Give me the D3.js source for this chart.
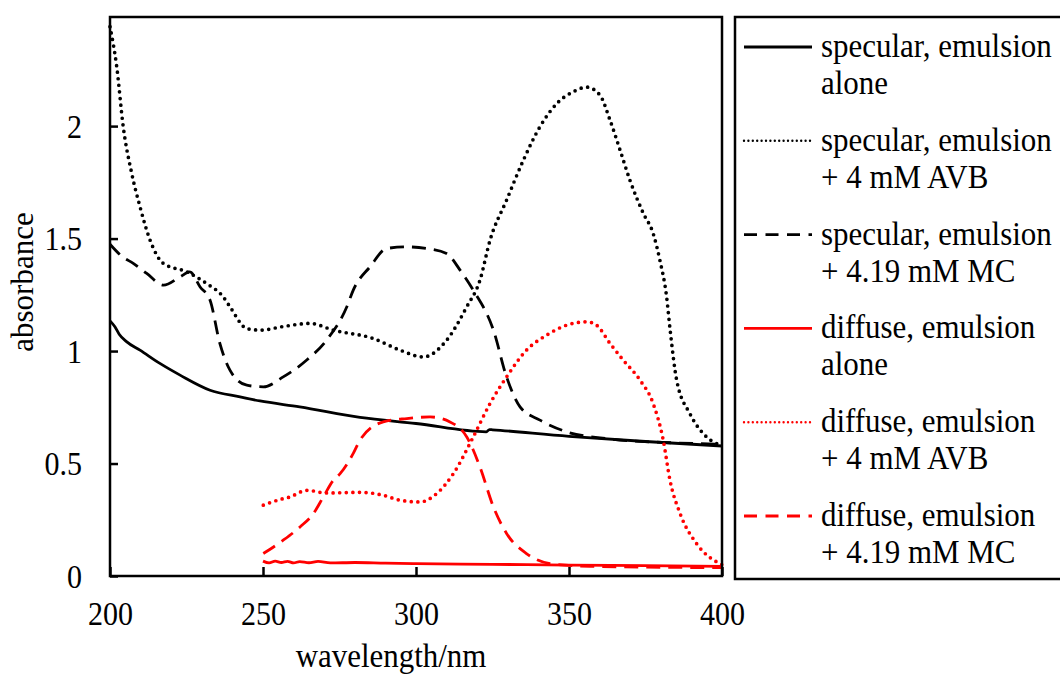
<!DOCTYPE html>
<html lang="en">
<head>
<meta charset="utf-8">
<title>absorbance spectra</title>
<script src="https://d3js.org/d3.v7.min.js"></script>
<style>
body { margin: 0; background: #fff; }
svg text { font-family: "Liberation Serif", "Times New Roman", serif; fill: #000; }
</style>
</head>
<body>
<div id="chart"></div>
<script>

// ---- data: [wavelength nm, absorbance] ----
var specAlone = [[200,1.134],[201.6,1.108],[203,1.075],[205.5,1.041],[209.8,1.004],[216.3,0.945],[222.9,0.893],
  [232.7,0.826],[242.5,0.796],[249,0.778],[262,0.752],[281.7,0.705],[300,0.678],[323,0.641],[324,0.651],
  [325,0.650],[350,0.621],[375,0.598],[400,0.578]];

var specAVB = [[200,2.442],[202.2,2.264],[204.3,2.0],[207.1,1.79],[209.8,1.642],[213.1,1.493],[217.4,1.39],
  [225.1,1.352],[231.6,1.30],[237,1.241],[239.2,1.197],[244.7,1.10],[249,1.093],[257,1.11],[265.4,1.123],
  [273,1.093],[286,1.056],[294.8,1.004],[302.4,0.974],[310,1.048],[316.6,1.197],[320.9,1.315],[324.2,1.493],
  [329.6,1.671],[335.1,1.849],[340.5,1.997],[346,2.10],[351.4,2.153],[355.8,2.173],[360.1,2.138],[363.4,2.027],
  [366.7,1.893],[369.9,1.76],[374.3,1.612],[377.5,1.523],[379.7,1.404],[381.9,1.241],[383,1.10],[385.2,0.87],
  [389.5,0.722],[395,0.618],[400,0.58]];

var specMC = [[200,1.475],[204,1.42],[207.6,1.39],[212,1.345],[217.5,1.293],[222.9,1.33],[226.1,1.352],
  [229.4,1.286],[232.7,1.226],[235.9,1.034],[239.2,0.915],[244.7,0.848],[250.1,0.841],[256.6,0.885],
  [264.3,0.96],[270.8,1.049],[277.4,1.197],[279.5,1.271],[285,1.375],[290.4,1.456],[297,1.463],[303.5,1.456],
  [310,1.434],[314.4,1.36],[318.7,1.271],[325.3,1.093],[329.6,0.885],[334,0.752],[340.5,0.693],[349.2,0.641],
  [362.3,0.611],[384.1,0.592],[400,0.586]];

var diffAlone = [[250,0.066],[252,0.058],[254,0.066],[256,0.06],[258,0.065],[260,0.058],[262,0.064],[265,0.059],
  [268,0.065],[272,0.058],[280,0.06],[290,0.057],[300,0.055],[325,0.052],[350,0.048],[375,0.046],[400,0.043]];

var diffAVB = [[250.1,0.315],[256.6,0.344],[258.5,0.35],[264.3,0.381],[270.8,0.369],[281.7,0.372],[289.3,0.359],
  [294.8,0.337],[301.3,0.329],[306.8,0.367],[312.2,0.455],[318.7,0.618],[324.2,0.767],[329.6,0.885],[336.1,1.004],
  [342.7,1.071],[349.2,1.115],[355.8,1.13],[359,1.115],[363.4,1.034],[367.7,0.96],[373.2,0.871],[377.5,0.767],
  [380.8,0.604],[383,0.426],[386.3,0.278],[391.7,0.144],[400,0.05]];

var diffMC = [[250.1,0.10],[256.6,0.159],[262.1,0.218],[266.5,0.278],[269.7,0.351],[273,0.426],[275.2,0.455],
  [279.5,0.545],[281.7,0.604],[289.3,0.685],[297,0.70],[304.6,0.707],[311.1,0.685],[316.6,0.618],[320.9,0.485],
  [325.3,0.307],[329.6,0.189],[336.1,0.10],[343.8,0.055],[356.9,0.043],[400,0.037]];

var seriesNames = ["specular, emulsion|alone", "specular, emulsion|+ 4 mM AVB", "specular, emulsion|+ 4.19 mM MC",
  "diffuse, emulsion|alone", "diffuse, emulsion|+ 4 mM AVB", "diffuse, emulsion|+ 4.19 mM MC"];
var seriesData = [specAlone, specAVB, specMC, diffAlone, diffAVB, diffMC];
var seriesColor = ["#000", "#000", "#000", "#ff0000", "#ff0000", "#ff0000"];
var seriesDash = ["none", "0,6.6", "14,8", "none", "0,6.6", "14,8"];

var xTicks = [200, 250, 300, 350, 400];
var yTicks = [0, 0.5, 1, 1.5, 2];

// ---- layout ----
var W = 1060, H = 674;
var plotL = 110, plotR = 722, plotT = 17, plotB = 576;
var sx = 0.91;   // the original glyphs are a bit taller than wide

var svg = d3.select("#chart").append("svg")
  .attr("width", W).attr("height", H);

var x = d3.scaleLinear().domain([200, 400]).range([plotL, plotR]);
var y = d3.scaleLinear().domain([0, 2.485]).range([plotB, plotT]);

function isDot(i) { return seriesDash[i] == "0,6.6"; }

// curves
var line = d3.line()
  .x(function(d) { return x(d[0]); })
  .y(function(d) { return y(d[1]); })
  .curve(d3.curveMonotoneX);

svg.append("g").selectAll("path")
  .data(seriesData)
  .enter().append("path")
    .attr("d", line)
    .attr("fill", "none")
    .attr("stroke", function(d, i) { return seriesColor[i]; })
    .attr("stroke-width", function(d, i) { return isDot(i) ? 3.7 : 2.8; })
    .attr("stroke-linecap", function(d, i) { return isDot(i) ? "round" : "butt"; })
    .attr("stroke-dasharray", function(d, i) { return seriesDash[i]; });

// axes (ticks pointing inwards)
var xAxis = svg.append("g")
  .attr("transform", "translate(0," + plotB + ")")
  .call(d3.axisBottom(x).tickValues(xTicks).tickSize(-9).tickSizeOuter(0));
var yAxis = svg.append("g")
  .attr("transform", "translate(" + plotL + ",0)")
  .call(d3.axisLeft(y).tickValues(yTicks).tickSize(-8).tickSizeOuter(0)
    .tickFormat(function(d) { return d; }));

[xAxis, yAxis].forEach(function(a) {
  a.select(".domain").remove();
  a.selectAll("line").attr("stroke", "#000").attr("stroke-width", 2.5);
  a.selectAll("text")
    .style("font-family", "'Liberation Serif', serif").style("font-size", "33px")
    .attr("fill", "#000")
    .attr("transform", "scale(" + sx + ",1)");
});
xAxis.selectAll("text").attr("y", 49).attr("dy", 0);
yAxis.selectAll("text").attr("x", -28 / sx).attr("dy", "0.34em");

// plot frame
svg.append("rect")
  .attr("x", plotL).attr("y", plotT)
  .attr("width", plotR - plotL).attr("height", plotB - plotT)
  .attr("fill", "none").attr("stroke", "#000").attr("stroke-width", 2.5);

// axis titles
svg.append("text")
  .attr("transform", "translate(391,667) scale(" + sx + ",1)")
  .attr("text-anchor", "middle")
  .style("font-size", "34px")
  .text("wavelength/nm");

svg.append("text")
  .attr("transform", "translate(33,282) rotate(-90)")
  .attr("text-anchor", "middle")
  .style("font-size", "31px")
  .text("absorbance");

// legend
svg.append("rect")
  .attr("x", 735).attr("y", 17)
  .attr("width", 400).attr("height", 562)
  .attr("fill", "none").attr("stroke", "#000").attr("stroke-width", 2.5);

var leg = svg.append("g").selectAll("g")
  .data(seriesNames)
  .enter().append("g")
    .attr("transform", function(d, i) { return "translate(0," + (47 + i * 93.8) + ")"; });

leg.append("line")
  .attr("x1", 744).attr("x2", 812)
  .attr("stroke", function(d, i) { return seriesColor[i]; })
  .attr("stroke-width", function(d, i) { return isDot(i) ? 2.4 : 2.8; })
  .attr("stroke-linecap", function(d, i) { return isDot(i) ? "round" : "butt"; })
  .attr("stroke-dasharray", function(d, i) { return isDot(i) ? "0,4.4" : seriesDash[i] == "none" ? "none" : "13,8.5"; });

leg.append("text")
  .attr("transform", "translate(821,10) scale(" + sx + ",1)")
  .style("font-size", "34px")
  .selectAll("tspan")
  .data(function(d) { return d.split("|"); })
  .enter().append("tspan")
    .attr("x", 0)
    .attr("dy", function(d, i) { return i == 0 ? 0 : 37; })
    .text(function(d) { return d; });

</script>
</body>
</html>
